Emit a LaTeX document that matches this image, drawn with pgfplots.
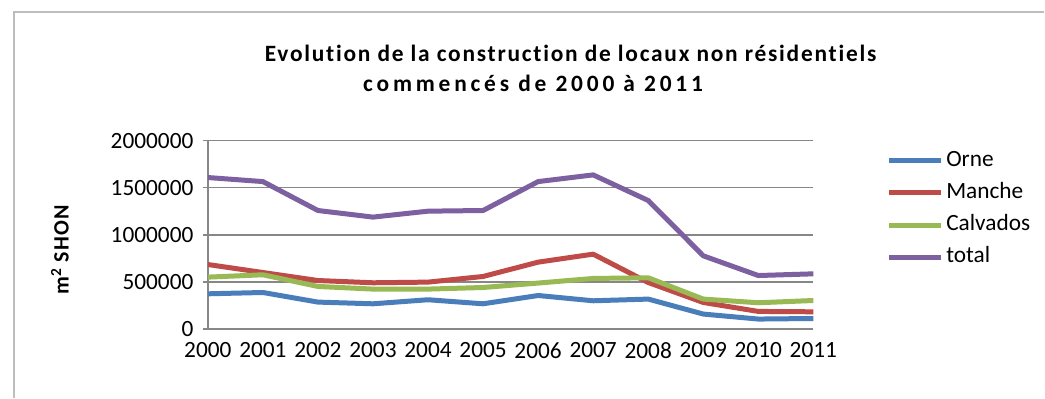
\documentclass[border=0pt]{standalone}
\usepackage{fontspec}
\setmainfont{Carlito}
\usepackage{pgfplots}
\pgfplotsset{compat=1.18}

\definecolor{orne}{HTML}{4A7EBB}
\definecolor{manche}{HTML}{BE4B48}
\definecolor{calvados}{HTML}{98B954}
\definecolor{total}{HTML}{7D60A0}
\definecolor{gridgray}{HTML}{878787}
\definecolor{framegray}{HTML}{BDBDBD}

\begin{document}
\begin{tikzpicture}[x=1bp,y=1bp]
% page and chart frame
\path[fill=white] (0,0) rectangle (1045,398);
\draw[framegray, line width=1.6bp] (14,0) -- (14,386) -- (1045,386);

% title, two lines
\node[inner sep=0pt, font={\fontsize{23.5}{27}\selectfont\bfseries\addfontfeature{LetterSpace=7.5,Ligatures=NoCommon}}] at (571,345)
  {Evolution de la construction de locaux non résidentiels};
\node[inner sep=0pt, font={\fontsize{23.5}{27}\selectfont\bfseries\addfontfeature{LetterSpace=16.3,Ligatures=NoCommon}}] at (533.5,315)
  {commencés de 2000 à 2011};

\begin{axis}[
  at={(208bp,68.7bp)}, anchor=south west,
  scale only axis,
  width=606bp, height=188.6bp,
  xmin=2000, xmax=2011,
  ymin=0, ymax=2000000,
  xtick={2000,...,2011},
  ytick={0,500000,1000000,1500000,2000000},
  scaled y ticks=false,
  /pgf/number format/assume math mode=true,
  yticklabel={\pgfmathprintnumber[fixed,precision=0,1000 sep={}]{\tick}},
  xticklabel={\pgfmathprintnumber[fixed,precision=0,1000 sep={}]{\tick}},
  tick label style={font=\fontsize{23.4}{27}\selectfont},
  yticklabel style={xshift=-6bp},
  xticklabel style={yshift=-5bp},
  ymajorgrids,
  grid style={gridgray, line width=1.5bp},
  axis line style={gridgray, line width=1.5bp},
  axis x line*=bottom,
  axis y line*=left,
  ytick style={gridgray, line width=1.5bp},
  xtick style={draw=none},
  tick align=outside,
  major tick length=5bp,
  ylabel={m\textsuperscript{2} SHON},
  ylabel style={at={(axis description cs:-0.2442,0.4205)}, anchor=center,
    font=\fontsize{22}{26}\selectfont\bfseries\addfontfeature{LetterSpace=6}},
  legend style={at={(axis description cs:1.1205,0.9496)}, anchor=north west,
    draw=none, fill=none, inner sep=0pt, outer sep=0pt, row sep=11.3bp,
    nodes={inner sep=0pt, text height=16bp, text depth=5bp, font=\fontsize{23.4}{27}\selectfont}},
  legend cell align=left,
  legend image code/.code={\draw[#1, line width=5bp] (0bp,0bp) -- (52bp,0bp);},
  every axis plot/.append style={line width=5bp, line join=round},
]
\addplot[orne] coordinates {
  (2000,374000) (2001,388000) (2002,286000) (2003,268000) (2004,311000) (2005,268000)
  (2006,356000) (2007,300000) (2008,318000) (2009,159000) (2010,106000) (2011,112000)};
\addlegendentry{\hspace{3bp}Orne}
\addplot[manche] coordinates {
  (2000,685000) (2001,600000) (2002,515000) (2003,491000) (2004,498000) (2005,558000)
  (2006,710000) (2007,795000) (2008,494000) (2009,282000) (2010,187000) (2011,183000)};
\addlegendentry{\hspace{3bp}Manche}
\addplot[calvados] coordinates {
  (2000,551000) (2001,576000) (2002,452000) (2003,424000) (2004,424000) (2005,441000)
  (2006,488000) (2007,537000) (2008,544000) (2009,318000) (2010,279000) (2011,303000)};
\addlegendentry{\hspace{3bp}Calvados}
\addplot[total] coordinates {
  (2000,1608000) (2001,1565000) (2002,1258000) (2003,1188000) (2004,1251000) (2005,1258000)
  (2006,1565000) (2007,1636000) (2008,1364000) (2009,777000) (2010,568000) (2011,586000)};
\addlegendentry{\hspace{3bp}total}
\end{axis}
\end{tikzpicture}
\end{document}
